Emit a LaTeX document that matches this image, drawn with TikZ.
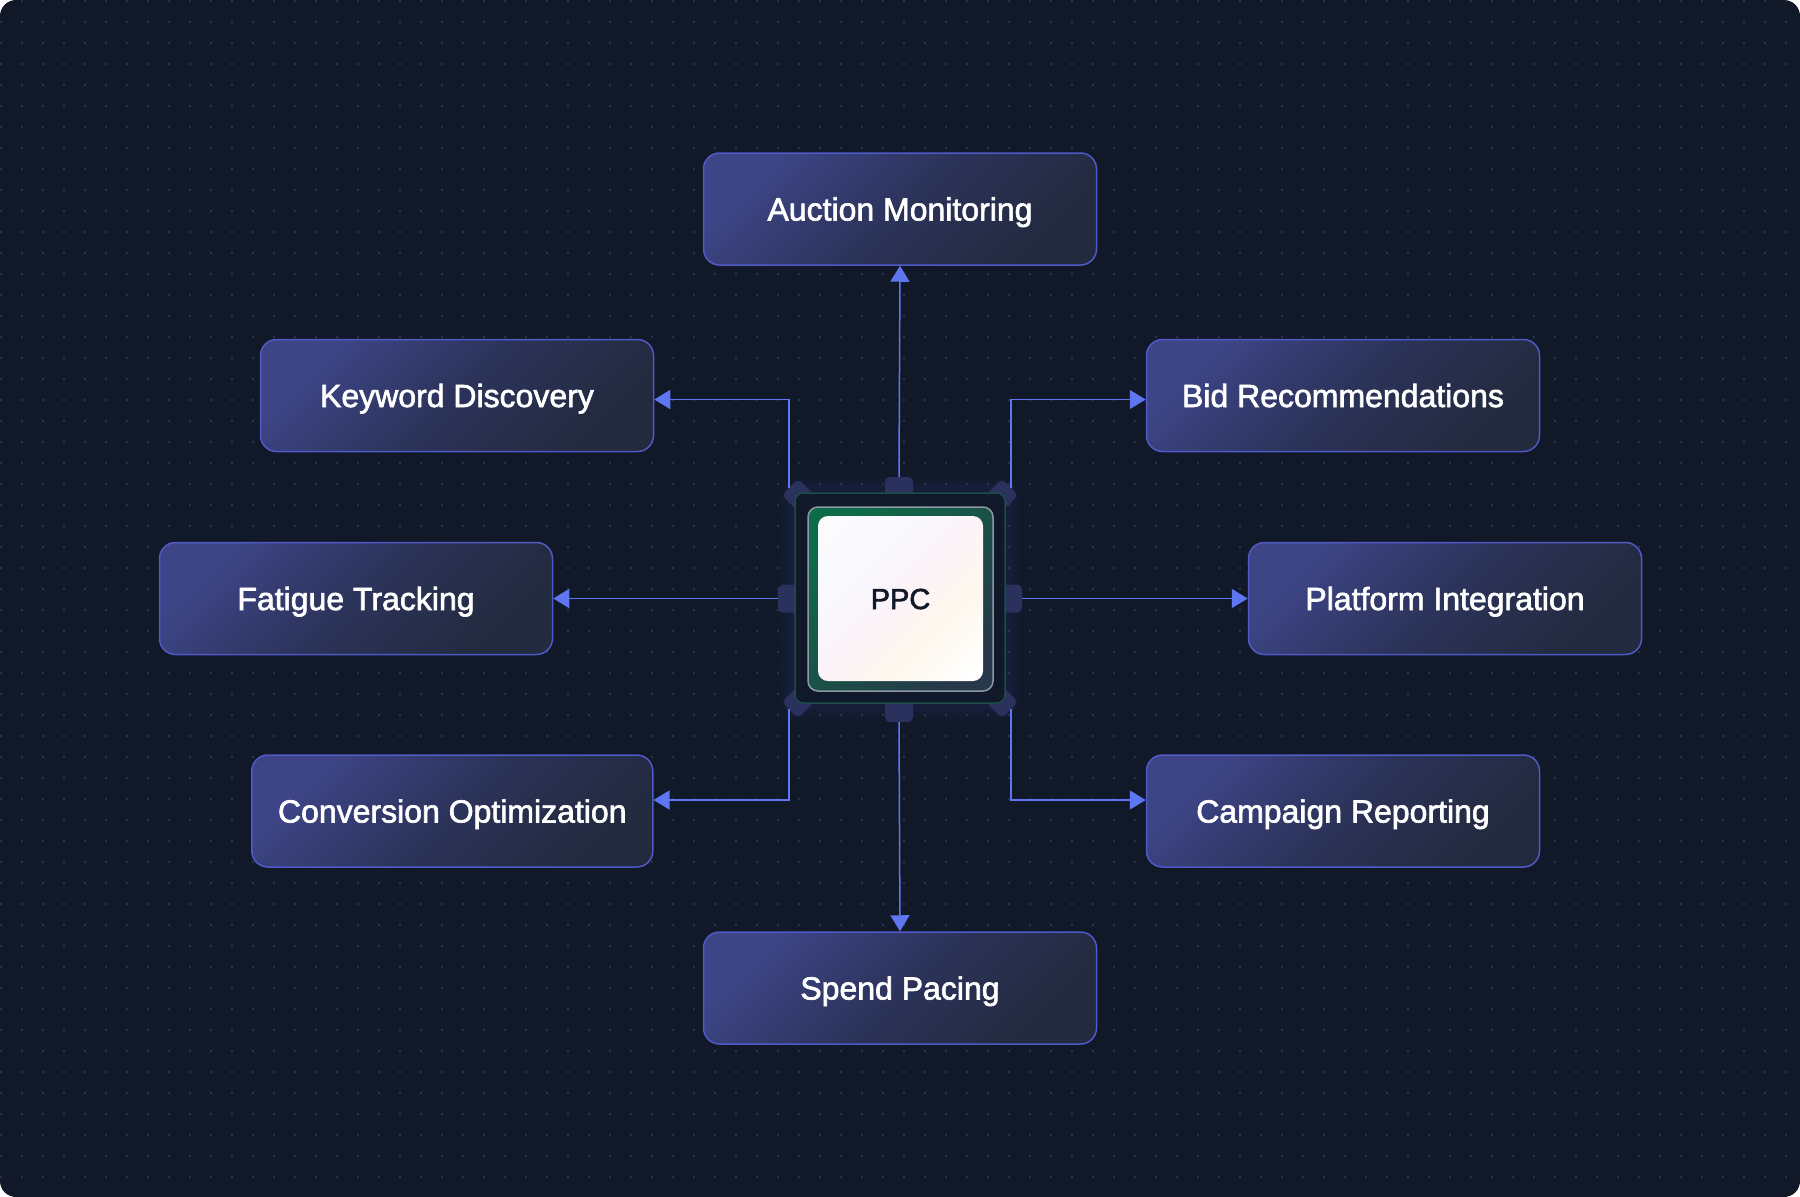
\documentclass[tikz,border=0pt]{standalone}
\usepackage{fontspec}
\setmainfont{Liberation Sans}
\newfontfamily\labelfont[FakeBold=2]{Liberation Sans}
\usetikzlibrary{arrows.meta,calc}
\definecolor{bgc}{HTML}{111827}
\definecolor{dotc}{HTML}{2C3446}
\definecolor{boxA}{HTML}{3D4587}
\definecolor{boxB}{HTML}{2C335A}
\definecolor{boxC}{HTML}{222A3E}
\definecolor{boxline}{HTML}{5059C8}
\definecolor{arrowc}{HTML}{5F76F2}
\definecolor{padc}{HTML}{29315C}
\definecolor{chipfill}{HTML}{10182A}
\definecolor{chipline}{HTML}{1C4D48}
\definecolor{frameA}{HTML}{0E6B47}
\definecolor{frameB}{HTML}{263849}
\definecolor{frameline}{HTML}{8C9AA3}
\definecolor{wA}{HTML}{F8F8FE}
\definecolor{wB}{HTML}{FCF3F8}
\definecolor{wC}{HTML}{FEF7EC}
\definecolor{ppctext}{HTML}{111827}
\definecolor{glowc}{HTML}{3040A0}
\pgfdeclarehorizontalshading{chipwhite}{100bp}{color(0bp)=(white); color(36bp)=(wA); color(50bp)=(wB); color(64bp)=(wC); color(82bp)=(white); color(100bp)=(white)}
\begin{document}
\begin{tikzpicture}[x=1pt,y=-1pt,
  box/.style={rectangle, rounded corners=16pt, draw=boxline, line width=1.5pt,
    minimum width=393pt, minimum height=112pt, inner sep=0pt,
    top color=boxA, bottom color=boxC, middle color=boxB, shading angle=45,
    text=white, font=\labelfont\fontsize{32}{38}\selectfont,
    text height=23pt, text depth=0pt},
  conn/.style={draw=arrowc, line width=1.5pt, -{Triangle[length=16pt,width=19pt]}},
  pad/.style={fill=padc, rounded corners=5pt, inner sep=0pt},
  diam/.style={pad, minimum size=23pt, rotate=45},
]
\useasboundingbox (0,0) rectangle (1800,1197);
\fill[white] (0,0) rectangle (1800,1197);
\begin{scope}
  \clip[rounded corners=16pt] (0,0) rectangle (1800,1197);
  \fill[bgc] (0,0) rectangle (1800,1197);
  \foreach \j in {0,...,56}{
    \fill[dotc] \foreach \i in {0,...,85}{ (1+21*\i,1+21*\j) circle[radius=1.4pt] };
  }
\end{scope}

% boxes
\node[box] (auction) at (900,209) {Auction Monitoring};
\node[box] (keyword) at (457,395.5) {Keyword Discovery};
\node[box] (bid) at (1343,395.5) {Bid Recommendations};
\node[box] (fatigue) at (356,598.5) {Fatigue Tracking};
\node[box] (platform) at (1445,598.5) {Platform Integration};
\node[box, minimum width=401pt] (conv) at (452.3,811) {Conversion Optimization};
\node[box] (camp) at (1343,811) {Campaign Reporting};
\node[box] (spend) at (900,988) {Spend Pacing};

% glow
\foreach \s/\o in {250/0.04,238/0.06,226/0.08}{
  \fill[glowc, opacity=\o, rounded corners=18pt] (900-\s/2,598-\s/2) rectangle (900+\s/2,598+\s/2);
}

% pads
\node[pad, minimum width=28pt, minimum height=30pt] (padT) at (899,492) {};
\node[pad, minimum width=28pt, minimum height=30pt] (padB) at (899,707) {};
\node[pad, minimum width=30pt, minimum height=28pt] (padL) at (793,598.5) {};
\node[pad, minimum width=30pt, minimum height=28pt] (padR) at (1007,598.5) {};
\node[diam] (padTL) at (798,495) {};
\node[diam] (padTR) at (1002,495) {};
\node[diam] (padBL) at (798,702) {};
\node[diam] (padBR) at (1002,702) {};

% chip
\node[rounded corners=8pt, fill=chipfill, draw=chipline, line width=1.5pt, minimum size=210pt, inner sep=0pt] (chip) at (900,598) {};
\node[rounded corners=10pt, draw=frameline, line width=1.5pt, top color=frameA, bottom color=frameB, shading angle=45,
  minimum width=185pt, minimum height=184pt, inner sep=0pt] (frame) at (900.5,599) {};
\node[rounded corners=10pt, shading=chipwhite, shading angle=-45, minimum width=165pt, minimum height=165pt, inner sep=0pt,
  text=ppctext, font=\labelfont\fontsize{29}{34}\selectfont, text height=21pt, text depth=0pt] (ppc) at (900.5,598.5) {PPC};

% connectors
\coordinate (sTL) at (789,488);
\coordinate (sTR) at (1011,488);
\coordinate (sBL) at (789,709);
\coordinate (sBR) at (1011,709);
\draw[conn] (padT.north) -- (auction.south);
\draw[conn] (padB.south) -- (spend.north);
\draw[conn] (padL.west) -- (fatigue.east);
\draw[conn] (padR.east) -- (platform.west);
\draw[conn] (sTL) |- ([yshift=-4pt]keyword.east);
\draw[conn] (sTR) |- ([yshift=-4pt]bid.west);
\draw[conn] (sBL) |- ([yshift=11pt]conv.east);
\draw[conn] (sBR) |- ([yshift=11pt]camp.west);
\end{tikzpicture}
\end{document}
